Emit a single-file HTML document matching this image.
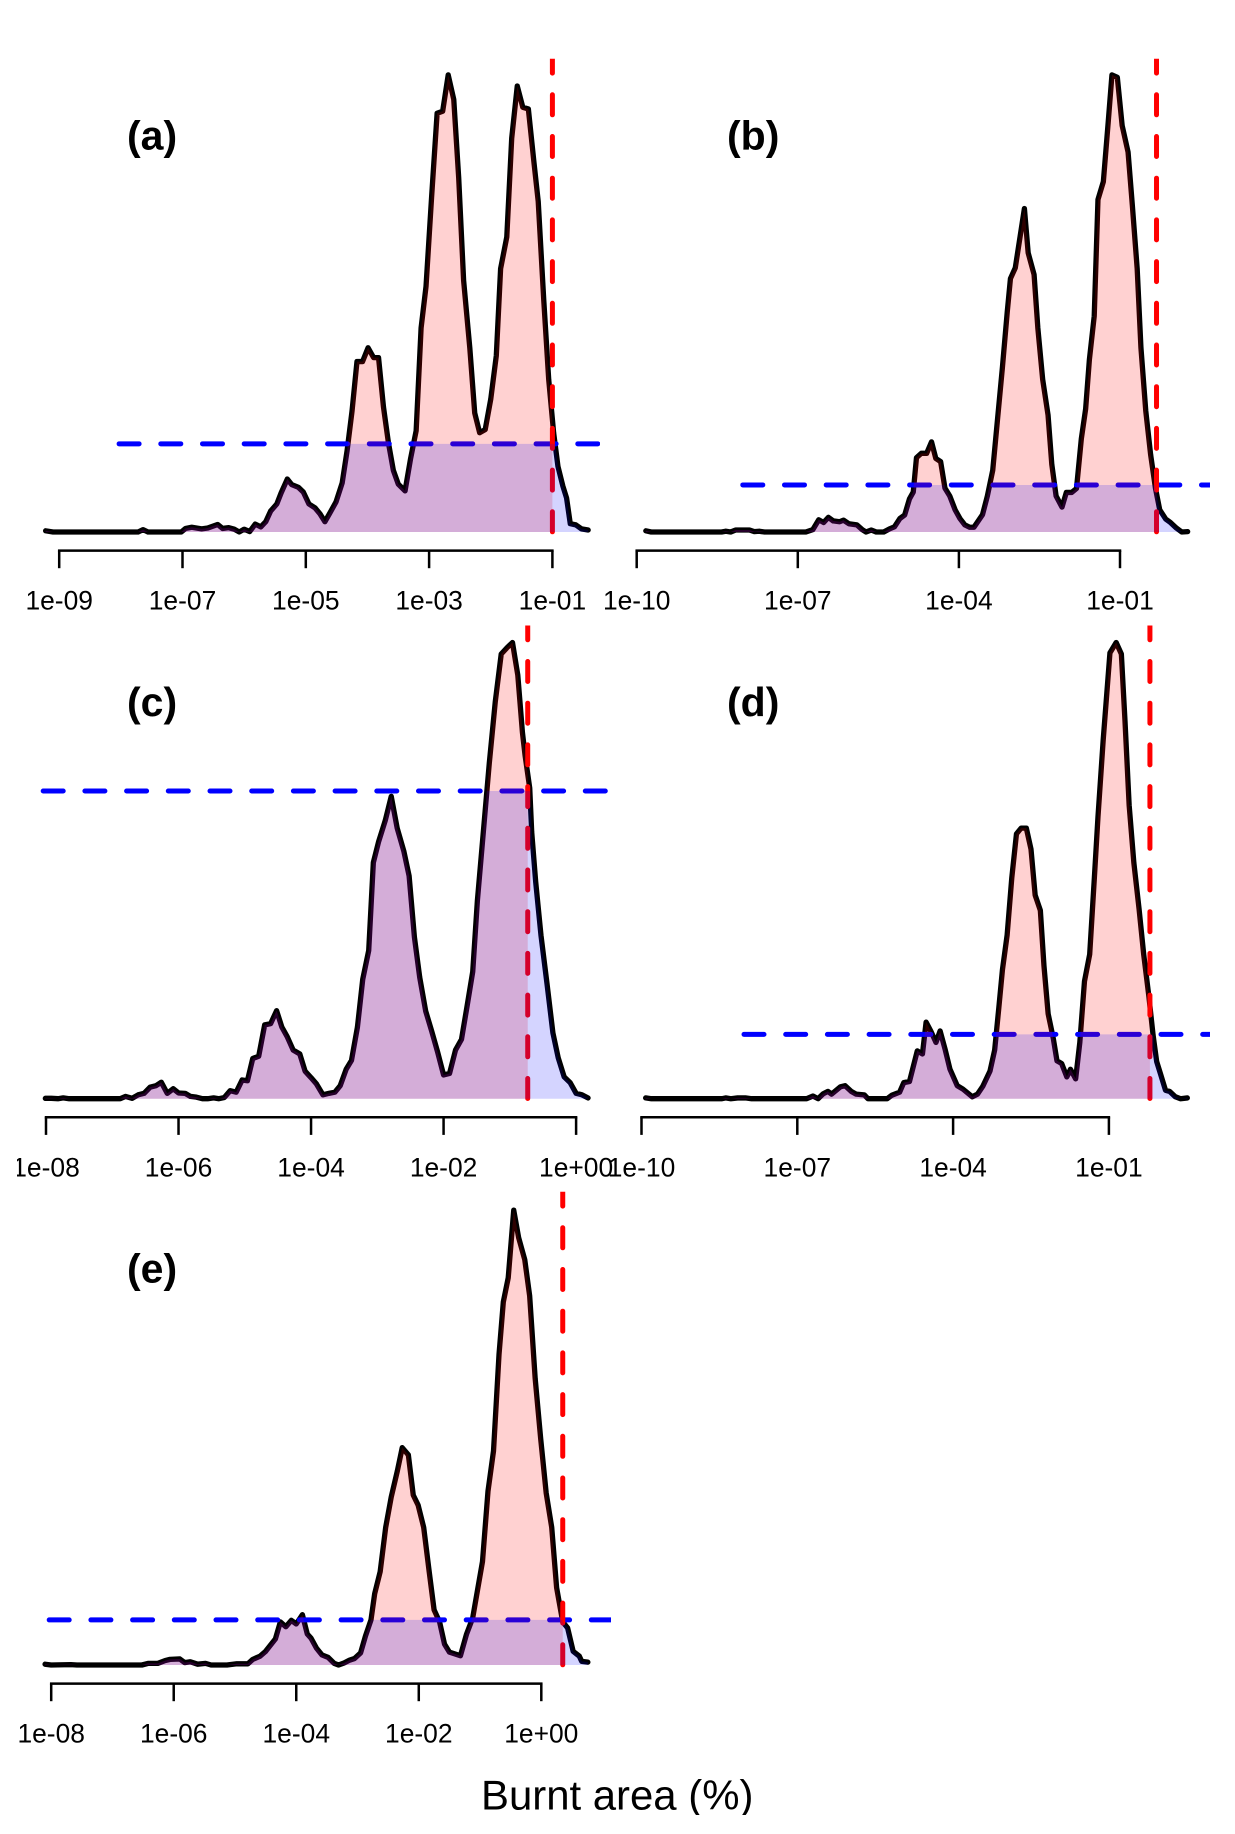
<!DOCTYPE html>
<html lang="en">
<head>
<meta charset="utf-8">
<title>Burnt area density panels</title>
<style>
html,body{margin:0;padding:0;background:#fff}
svg{display:block;font-family:"Liberation Sans",Arial,sans-serif}
</style>
</head>
<body>
<svg id="chart" xmlns="http://www.w3.org/2000/svg" width="1235" height="1834" viewBox="0 0 1235 1834">
<defs>
<clipPath id="tick-text-clip"><rect x="17" y="0" width="1218" height="1834"/></clipPath>
<clipPath id="xlabel-clip"><rect x="0" y="1700" width="1235" height="115"/></clipPath>
</defs>
<rect x="0" y="0" width="1235" height="1834" fill="#ffffff"/>
<text x="481" y="1809.3" font-size="41.9" fill="#000" clip-path="url(#xlabel-clip)">Burnt area (%)</text>
</svg>
<script>
// Panel (a)
const panelALogX = [-9.22,-9.10,-7.72,-7.64,-7.56,-7.02,-6.95,-6.85,-6.69,-6.59,-6.43,-6.35,-6.25,-6.16,-6.08,-6.00,-5.91,-5.82,-5.73,-5.65,-5.57,-5.47,-5.40,-5.30,-5.23,-5.12,-5.04,-4.95,-4.85,-4.77,-4.69,-4.61,-4.51,-4.41,-4.33,-4.25,-4.17,-4.08,-3.99,-3.90,-3.82,-3.74,-3.66,-3.58,-3.50,-3.39,-3.30,-3.21,-3.13,-3.05,-2.96,-2.87,-2.78,-2.69,-2.60,-2.52,-2.44,-2.34,-2.26,-2.18,-2.09,-2.00,-1.91,-1.84,-1.74,-1.66,-1.57,-1.48,-1.39,-1.30,-1.23,-1.14,-1.06,-0.98,-0.91,-0.83,-0.77,-0.71,-0.62,-0.53,-0.42];
const panelADensity = [.003,0,0,.006,0,0,.009,.012,.008,.010,.019,.009,.011,.007,0,.007,.001,.020,.013,.026,.053,.071,.099,.134,.120,.113,.101,.071,.061,.046,.026,.048,.076,.124,.206,.306,.431,.431,.466,.441,.441,.316,.226,.156,.121,.104,.186,.256,.516,.621,.846,1.059,1.064,1.156,1.094,.896,.636,.466,.301,.251,.259,.336,.446,.666,.746,.996,1.128,1.074,1.070,.936,.836,.586,.386,.251,.166,.116,.086,.021,.018,.008,.005];
const panelATicks = [-9,-7,-5,-3,-1];
const panelATickLabels = ["1e-09","1e-07","1e-05","1e-03","1e-01"];
const panelAThreshold = -1.0;
const panelALevel = 0.223;

// Panel (b)
const panelBLogX = [-9.83,-9.73,-8.42,-8.34,-8.25,-8.16,-7.90,-7.81,-7.72,-7.62,-6.85,-6.72,-6.61,-6.52,-6.43,-6.34,-6.22,-6.15,-6.05,-5.90,-5.80,-5.73,-5.63,-5.54,-5.40,-5.29,-5.20,-5.10,-5.01,-4.92,-4.85,-4.79,-4.70,-4.60,-4.51,-4.43,-4.34,-4.26,-4.17,-4.07,-3.98,-3.89,-3.80,-3.72,-3.56,-3.47,-3.37,-3.28,-3.19,-3.10,-3.04,-2.95,-2.78,-2.71,-2.60,-2.53,-2.44,-2.34,-2.27,-2.19,-2.08,-2.00,-1.90,-1.81,-1.72,-1.64,-1.57,-1.48,-1.41,-1.31,-1.22,-1.15,-1.05,-0.96,-0.85,-0.77,-0.68,-0.61,-0.52,-0.43,-0.34,-0.26,-0.15,-0.06,0.05,0.15,0.26];
const panelBDensity = [.003,0,0,.002,0,.005,.005,.001,.002,0,0,.006,.031,.024,.037,.028,.026,.030,.021,.018,.006,0,.005,0,0,.008,.013,.034,.043,.084,.101,.188,.199,.199,.228,.186,.178,.111,.091,.056,.034,.018,.012,.012,.044,.091,.156,.286,.416,.556,.641,.668,.818,.706,.651,.516,.386,.296,.171,.091,.063,.100,.100,.110,.236,.311,.436,.546,.841,.886,1.036,1.156,1.150,1.028,.961,.826,.666,.466,.306,.196,.111,.056,.033,.024,.010,0,.001];
const panelBTicks = [-10,-7,-4,-1];
const panelBTickLabels = ["1e-10","1e-07","1e-04","1e-01"];
const panelBThreshold = -0.32;
const panelBLevel = 0.119;

// Panel (c)
const panelCLogX = [-8.01,-7.92,-7.82,-7.74,-7.65,-6.88,-6.80,-6.70,-6.61,-6.52,-6.43,-6.34,-6.26,-6.17,-6.08,-6.00,-5.90,-5.82,-5.73,-5.64,-5.56,-5.47,-5.39,-5.31,-5.22,-5.13,-5.04,-4.96,-4.88,-4.79,-4.70,-4.61,-4.52,-4.44,-4.36,-4.27,-4.17,-4.09,-4.00,-3.92,-3.82,-3.73,-3.64,-3.56,-3.47,-3.39,-3.30,-3.22,-3.13,-3.06,-2.98,-2.88,-2.79,-2.70,-2.60,-2.52,-2.44,-2.36,-2.27,-2.18,-2.09,-2.00,-1.91,-1.82,-1.73,-1.65,-1.56,-1.49,-1.40,-1.31,-1.22,-1.13,-1.04,-0.96,-0.88,-0.81,-0.77,-0.70,-0.67,-0.61,-0.53,-0.44,-0.35,-0.27,-0.18,-0.09,0.00,0.09,0.18];
const panelCDensity = [.001,.001,0,.002,0,0,.006,.001,.010,.014,.030,.034,.043,.014,.026,.015,.014,.006,.004,0,0,.002,0,.003,.021,.017,.049,.047,.105,.111,.193,.196,.230,.187,.162,.127,.117,.072,.055,.039,.010,.014,.017,.034,.077,.100,.187,.312,.387,.617,.672,.727,.790,.707,.647,.582,.422,.317,.229,.177,.122,.062,.066,.127,.155,.237,.332,.517,.697,.877,1.037,1.162,1.179,1.192,1.107,.957,.897,.812,.697,.567,.427,.302,.172,.107,.057,.042,.014,.010,.002];
const panelCTicks = [-8,-6,-4,-2,0];
const panelCTickLabels = ["1e-08","1e-06","1e-04","1e-02","1e+00"];
const panelCThreshold = -0.73;
const panelCLevel = 0.804;

// Panel (d)
const panelDLogX = [-9.92,-9.81,-8.45,-8.38,-8.28,-8.15,-8.00,-7.88,-6.82,-6.70,-6.60,-6.50,-6.41,-6.34,-6.17,-6.08,-5.96,-5.87,-5.71,-5.64,-5.27,-5.18,-5.03,-4.95,-4.84,-4.69,-4.59,-4.52,-4.43,-4.33,-4.25,-4.15,-4.06,-3.92,-3.81,-3.63,-3.53,-3.43,-3.29,-3.20,-3.12,-3.05,-2.96,-2.87,-2.78,-2.69,-2.59,-2.50,-2.42,-2.32,-2.25,-2.17,-2.07,-2.00,-1.91,-1.81,-1.74,-1.64,-1.56,-1.47,-1.37,-1.28,-1.21,-1.11,-0.98,-0.86,-0.76,-0.69,-0.61,-0.52,-0.42,-0.33,-0.23,-0.15,-0.08,0.00,0.09,0.17,0.28,0.38,0.51];
const panelDDensity = [.002,0,0,.002,0,.002,.002,0,0,.007,0,.013,.019,.012,.031,.034,.019,.012,.010,0,0,.009,.017,.042,.045,.125,.117,.200,.177,.147,.177,.127,.077,.034,.025,.005,.012,.032,.072,.127,.237,.337,.427,.577,.692,.707,.707,.652,.532,.492,.347,.222,.157,.099,.092,.057,.077,.052,.147,.307,.377,.577,.737,.937,1.165,1.192,1.162,.987,.767,.617,.497,.377,.267,.167,.097,.062,.022,.019,.005,0,.002];
const panelDTicks = [-10,-7,-4,-1];
const panelDTickLabels = ["1e-10","1e-07","1e-04","1e-01"];
const panelDThreshold = -0.21;
const panelDLevel = 0.168;

// Panel (e)
const panelELogX = [-8.10,-8.00,-7.68,-7.58,-6.52,-6.42,-6.26,-6.14,-6.06,-5.90,-5.82,-5.73,-5.61,-5.48,-5.39,-5.13,-4.97,-4.79,-4.71,-4.59,-4.50,-4.34,-4.26,-4.17,-4.08,-4.00,-3.90,-3.82,-3.76,-3.67,-3.58,-3.48,-3.38,-3.31,-3.22,-3.13,-3.05,-2.95,-2.87,-2.78,-2.72,-2.63,-2.54,-2.45,-2.35,-2.27,-2.17,-2.09,-2.01,-1.92,-1.83,-1.75,-1.66,-1.58,-1.50,-1.40,-1.32,-1.22,-1.12,-1.04,-0.96,-0.87,-0.78,-0.69,-0.62,-0.54,-0.45,-0.37,-0.27,-0.19,-0.10,-0.01,0.08,0.17,0.25,0.35,0.43,0.52,0.62,0.66,0.76];
const panelEDensity = [.002,0,.001,0,0,.004,.004,.011,.014,.015,.006,.008,.002,.004,0,0,.003,.003,.014,.022,.034,.065,.107,.095,.111,.102,.125,.077,.067,.042,.025,.019,.004,0,.005,.012,.016,.030,.072,.112,.177,.232,.342,.417,.482,.540,.522,.422,.397,.342,.232,.137,.107,.052,.032,.027,.023,.077,.117,.187,.257,.432,.532,.772,.902,.962,1.130,1.062,1.007,.917,.712,.562,.427,.342,.192,.107,.092,.034,.022,.009,.007];
const panelETicks = [-8,-6,-4,-2,0];
const panelETickLabels = ["1e-08","1e-06","1e-04","1e-02","1e+00"];
const panelEThreshold = 0.35;
const panelELevel = 0.112;

const SVGNS = "http://www.w3.org/2000/svg";
const svg = document.getElementById("chart");

function mk(parent, tag, attrs, text) {
  const el = document.createElementNS(SVGNS, tag);
  for (const k in attrs) el.setAttribute(k, attrs[k]);
  if (text !== undefined) el.textContent = text;
  parent.appendChild(el);
  return el;
}

function drawPanel(p) {
  const id = p.id;
  const xScale = v => p.xA + (v - p.ticks[0]) * (p.xB - p.xA) / (p.ticks[p.ticks.length - 1] - p.ticks[0]);
  const yScale = d => p.base - d * p.yUnit;
  const plotTop = p.base - 473.2;
  const plotBottom = p.base + 2.9;

  const g = mk(svg, "g", {});
  
  

  const defs = mk(g, "defs", {});
  const c1 = mk(defs, "clipPath", {id: "pink-" + id});
  mk(c1, "rect", {x: 0, y: 0, width: xScale(p.threshold), height: 1834});
  const c2 = mk(defs, "clipPath", {id: "blue-" + id});
  mk(c2, "rect", {x: 0, y: yScale(p.level), width: 1235, height: 1834});
  const c3 = mk(defs, "clipPath", {id: "red-" + id});
  mk(c3, "rect", {x: 0, y: plotTop, width: 1235, height: plotBottom - plotTop});
  const c4 = mk(defs, "clipPath", {id: "hline-" + id});
  mk(c4, "rect", {x: 0, y: 0, width: p.blueEnd, height: 1834});

  const pts = p.logX.map((v, i) => xScale(v).toFixed(2) + "," + yScale(p.density[i]).toFixed(2));
  const linePath = "M" + pts.join("L");
  const areaPath = linePath + "L" + xScale(p.logX[p.logX.length - 1]).toFixed(2) + "," + p.base + "L" + xScale(p.logX[0]).toFixed(2) + "," + p.base + "Z";

  const curve = mk(g, "path", {d: linePath, fill: "none", stroke: "#000", "stroke-width": 5.3, "stroke-linejoin": "round", "stroke-linecap": "round"});
  
  

  const yLevel = yScale(p.level);
  const hline = mk(g, "line", {x1: p.blueStart, y1: yLevel, x2: 1235, y2: yLevel, stroke: "#0000ff", "stroke-width": 5, "stroke-linecap": "round", "stroke-dasharray": "20 21.7", "clip-path": "url(#hline-" + id + ")"});
  
  

  const xRed = xScale(p.threshold);
  const vline = mk(g, "line", {x1: xRed, y1: plotTop - 5.7, x2: xRed, y2: plotBottom + 20, stroke: "#ff0000", "stroke-width": 5, "stroke-linecap": "round", "stroke-dasharray": "20 21.7", "clip-path": "url(#red-" + id + ")"});
  
  

  const pink = mk(g, "path", {d: areaPath, fill: "rgba(255,0,0,0.18)", "clip-path": "url(#pink-" + id + ")"});
  
  

  const blue = mk(g, "path", {d: areaPath, fill: "rgba(0,0,255,0.17)", "clip-path": "url(#blue-" + id + ")"});
  
  

  const axisY = p.base + 18.6;
  const axis = mk(g, "line", {x1: xScale(p.ticks[0]) - 1.25, y1: axisY, x2: xScale(p.ticks[p.ticks.length - 1]) + 1.25, y2: axisY, stroke: "#000", "stroke-width": 2.5});
  
  

  p.ticks.forEach((t, i) => {
    const tx = xScale(t);
    const tick = mk(g, "line", {x1: tx, y1: axisY, x2: tx, y2: axisY + 17.6, stroke: "#000", "stroke-width": 2.5});
    
    
    const label = mk(g, "text", {x: tx, y: p.base + 77.6, "font-size": 26.4, "text-anchor": "middle", fill: "#000", "clip-path": "url(#tick-text-clip)"}, p.tickLabels[i]);
    
    
  });

  const letter = mk(g, "text", {x: p.letterX, y: p.base - 382.5, "font-size": 41, "font-weight": "bold", fill: "#000"}, "(" + id + ")");
  
  
}

drawPanel({id: "a", logX: panelALogX, density: panelADensity, ticks: panelATicks, tickLabels: panelATickLabels, threshold: panelAThreshold, level: panelALevel, base: 532, yUnit: 395.4, xA: 59.2, xB: 552.4, blueStart: 119.1, blueEnd: 600, letterX: 127});
drawPanel({id: "b", logX: panelBLogX, density: panelBDensity, ticks: panelBTicks, tickLabels: panelBTickLabels, threshold: panelBThreshold, level: panelBLevel, base: 532, yUnit: 395.4, xA: 636.7, xB: 1120, blueStart: 742.8, blueEnd: 1210, letterX: 727});
drawPanel({id: "c", logX: panelCLogX, density: panelCDensity, ticks: panelCTicks, tickLabels: panelCTickLabels, threshold: panelCThreshold, level: panelCLevel, base: 1098.7, yUnit: 382.7, xA: 46, xB: 576.1, blueStart: 43.2, blueEnd: 608, letterX: 127});
drawPanel({id: "d", logX: panelDLogX, density: panelDDensity, ticks: panelDTicks, tickLabels: panelDTickLabels, threshold: panelDThreshold, level: panelDLevel, base: 1098.7, yUnit: 382.7, xA: 641.5, xB: 1108.9, blueStart: 744, blueEnd: 1210, letterX: 727});
drawPanel({id: "e", logX: panelELogX, density: panelEDensity, ticks: panelETicks, tickLabels: panelETickLabels, threshold: panelEThreshold, level: panelELevel, base: 1665, yUnit: 402.5, xA: 51.2, xB: 541.3, blueStart: 49.2, blueEnd: 611, letterX: 127});
</script>
</body>
</html>
